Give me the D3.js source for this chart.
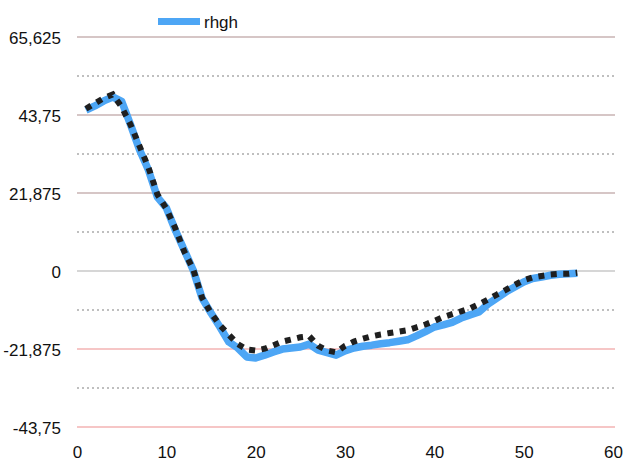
<!DOCTYPE html>
<html><head><meta charset="utf-8">
<script src="https://cdn.jsdelivr.net/npm/d3@7"></script>
<style>body{margin:0;background:#fff}svg{display:block}text{font-family:"Liberation Sans Narrow","Liberation Sans",Arial,sans-serif}</style>
</head><body><svg id="c" width="627" height="462"></svg>
<script>
const xs = d3.range(1, 57);
const seriesName = "rhgh";
const blueValues = [45.1,46.3,47.7,48.8,47.6,41,34,28.3,20.7,17.7,11.5,5.9,0.3,-7.6,-11.8,-15.7,-19.9,-21.6,-24.1,-24.4,-23.6,-22.7,-21.9,-21.6,-21.3,-20.5,-22.2,-22.9,-23.6,-22.4,-21.6,-21.1,-20.8,-20.4,-20.1,-19.7,-19.3,-18.2,-17,-15.7,-15.1,-14.4,-13.2,-12.3,-11.5,-9.3,-7.6,-5.9,-4.5,-3.1,-2.1,-1.7,-1.2,-0.9,-0.8,-0.6];
const dottedValues = [45.5,47,48.5,49.5,46,41,35,29,21.5,17.5,12,5.5,0.5,-7.5,-11.8,-15.2,-17.9,-20.5,-22,-22.3,-21.8,-20.8,-19.8,-19.2,-18.6,-18.3,-21,-22.3,-22.8,-21,-19.8,-19,-18.3,-17.8,-17.4,-17,-16.6,-15.8,-15,-14,-12.9,-12.1,-11.3,-10.5,-9.3,-8,-6.6,-5.3,-3.9,-2.6,-1.8,-1.4,-1.0,-0.8,-0.8,-0.5];
const yMajor = [65.625, 43.75, 21.875, 0, -21.875, -43.75];
const yMinor = [54.6875, 32.8125, 10.9375, -10.9375, -32.8125];
const xTicks = [0,10,20,30,40,50,60];
const yLabels = ["65,625","43,75","21,875","0","-21,875","-43,75"];

const FONT = "Liberation Sans Narrow, Liberation Sans, Arial";
const svg = d3.select("#c");
const x = d3.scaleLinear().domain([0,60]).range([77,613]);
const y = d3.scaleLinear().domain([-43.75,65.625]).range([427,37]);
const majorColor = v => v > 0 ? "#c9b3b3" : (v === 0 ? "#d6d6d6" : "#f3b3b3");

svg.append("g").selectAll("line").data(yMinor).join("line")
  .attr("x1",77).attr("x2",615).attr("y1",d=>y(d)).attr("y2",d=>y(d))
  .attr("stroke","#aaaaaa").attr("stroke-width",1.5).attr("stroke-dasharray","2,3");
svg.append("g").selectAll("line").data(yMajor).join("line")
  .attr("x1",77).attr("x2",615).attr("y1",d=>y(d)).attr("y2",d=>y(d))
  .attr("stroke",d=>majorColor(d)).attr("stroke-width",d=>d===0?2:1.5);

const yAxis = d3.axisLeft(y).tickValues(yMajor).tickSize(0).tickPadding(0)
  .tickFormat((d,i)=>yLabels[i]);
const gy = svg.append("g").attr("transform","translate(61,1)").call(yAxis);
gy.select(".domain").remove();
gy.selectAll("text").attr("font-size",17).attr("fill","#111").attr("font-family",FONT);

const xAxis = d3.axisBottom(x).tickValues(xTicks).tickSize(0).tickPadding(0).tickFormat(d3.format("d"));
const gx = svg.append("g").attr("transform","translate(0,446)").call(xAxis);
gx.select(".domain").remove();
gx.selectAll("text").attr("font-size",17).attr("fill","#111").attr("font-family",FONT);

const line = d3.line().x((d,i)=>x(xs[i])).y(d=>y(d)).curve(d3.curveLinear);
svg.append("path").datum(blueValues).attr("d",line).attr("fill","none")
  .attr("stroke","#4da6f5").attr("stroke-width",7.5).attr("stroke-linejoin","round");
svg.append("path").datum(dottedValues).attr("d",line).attr("fill","none")
  .attr("stroke","#1f1f1f").attr("stroke-width",6).attr("stroke-dasharray","6,6.5");

const lg = svg.append("g");
lg.append("rect").attr("x",158).attr("y",18).attr("width",42).attr("height",7).attr("fill","#4da6f5");
lg.append("text").attr("x",204).attr("y",28).attr("font-size",17).attr("fill","#111").attr("font-family",FONT).text(seriesName);
</script></body></html>
